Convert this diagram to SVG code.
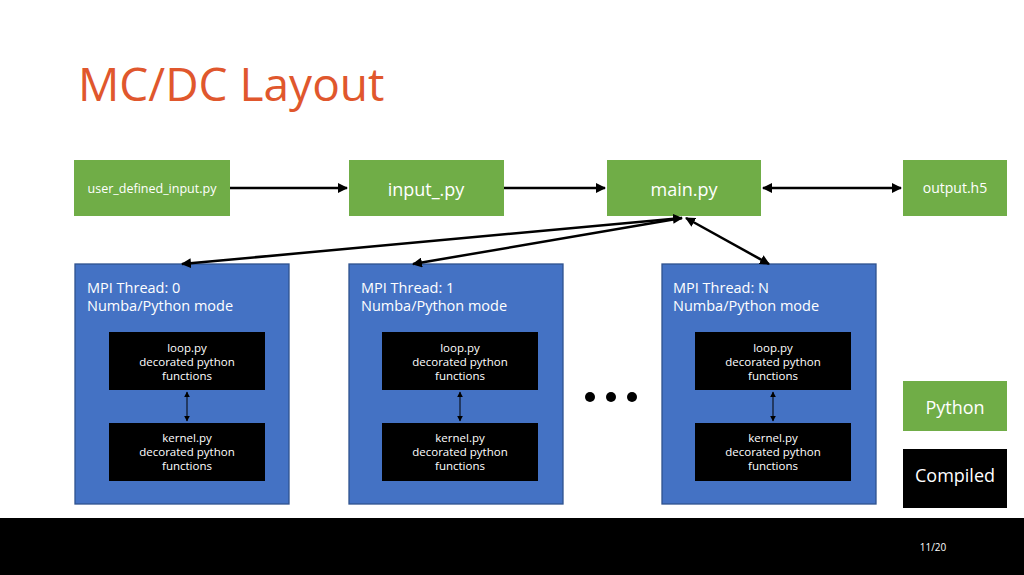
<svg xmlns="http://www.w3.org/2000/svg" width="1024" height="575" viewBox="0 0 1024 575">
<style>
text{font-family:"Open Sans","Noto Sans",sans-serif;}
.g{fill:#70AD47}
.b{fill:#4472C4;stroke:#2F528F;stroke-width:1.3}
.k{fill:#000}
.w{fill:#fff}
.c{stroke:#000;stroke-width:2.5;fill:none}
.s{stroke:#000;stroke-width:1;fill:none}
</style>
<defs>
<marker id="a" viewBox="0 0 10 10" refX="9" refY="5" markerWidth="4" markerHeight="4" orient="auto-start-reverse"><path d="M0,0L10,5L0,10z" fill="#000"/></marker>
<marker id="m" viewBox="0 0 10 10" refX="9" refY="5" markerWidth="6" markerHeight="6" orient="auto-start-reverse"><path d="M0,0L10,5L0,10z" fill="#000"/></marker>
</defs>
<rect width="1024" height="575" fill="#fff"/>
<text x="78" y="101" font-size="46" fill="#E0572D">MC/DC Layout</text>
<g id="user_input"><rect class="g" x="74" y="160" width="156" height="56"/><text class="w" x="152" y="193" font-size="12.5" text-anchor="middle">user_defined_input.py</text></g>
<g id="input"><rect class="g" x="349" y="160" width="155" height="56"/><text class="w" x="426" y="196" font-size="18" text-anchor="middle">input_.py</text></g>
<g id="main"><rect class="g" x="607" y="160" width="154" height="56"/><text class="w" x="684" y="196" font-size="18" text-anchor="middle">main.py</text></g>
<g id="output"><rect class="g" x="903" y="160" width="104" height="56"/><text class="w" x="955" y="193" font-size="14" text-anchor="middle">output.h5</text></g>
<g id="t0"><rect class="b" x="75" y="264" width="214" height="240"/><text class="w" x="87" y="293" font-size="14.5">MPI Thread: 0</text><text class="w" x="87" y="311" font-size="14.5">Numba/Python mode</text>
<rect class="k" x="109" y="332" width="156" height="58"/><text class="w" font-size="11.5" text-anchor="middle"><tspan x="187" y="352">loop.py</tspan><tspan x="187" y="366">decorated python</tspan><tspan x="187" y="380">functions</tspan></text>
<rect class="k" x="109" y="423" width="156" height="58"/><text class="w" font-size="11.5" text-anchor="middle"><tspan x="187" y="442">kernel.py</tspan><tspan x="187" y="456">decorated python</tspan><tspan x="187" y="470">functions</tspan></text>
<line class="s" x1="187" y1="392" x2="187" y2="421" marker-start="url(#m)" marker-end="url(#m)"/></g>
<g id="t1"><rect class="b" x="349" y="264" width="214" height="240"/><text class="w" x="361" y="293" font-size="14.5">MPI Thread: 1</text><text class="w" x="361" y="311" font-size="14.5">Numba/Python mode</text>
<rect class="k" x="382" y="332" width="156" height="58"/><text class="w" font-size="11.5" text-anchor="middle"><tspan x="460" y="352">loop.py</tspan><tspan x="460" y="366">decorated python</tspan><tspan x="460" y="380">functions</tspan></text>
<rect class="k" x="382" y="423" width="156" height="58"/><text class="w" font-size="11.5" text-anchor="middle"><tspan x="460" y="442">kernel.py</tspan><tspan x="460" y="456">decorated python</tspan><tspan x="460" y="470">functions</tspan></text>
<line class="s" x1="460" y1="392" x2="460" y2="421" marker-start="url(#m)" marker-end="url(#m)"/></g>
<g id="tN"><rect class="b" x="662" y="264" width="214" height="240"/><text class="w" x="673" y="293" font-size="14.5">MPI Thread: N</text><text class="w" x="673" y="311" font-size="14.5">Numba/Python mode</text>
<rect class="k" x="695" y="332" width="156" height="58"/><text class="w" font-size="11.5" text-anchor="middle"><tspan x="773" y="352">loop.py</tspan><tspan x="773" y="366">decorated python</tspan><tspan x="773" y="380">functions</tspan></text>
<rect class="k" x="695" y="423" width="156" height="58"/><text class="w" font-size="11.5" text-anchor="middle"><tspan x="773" y="442">kernel.py</tspan><tspan x="773" y="456">decorated python</tspan><tspan x="773" y="470">functions</tspan></text>
<line class="s" x1="773" y1="392" x2="773" y2="421" marker-start="url(#m)" marker-end="url(#m)"/></g>
<g id="dots" fill="#000"><circle cx="590" cy="397" r="5"/><circle cx="611" cy="397" r="5"/><circle cx="632" cy="397" r="5"/></g>
<g id="legend_python"><rect class="g" x="903" y="381" width="104" height="50"/><text class="w" x="955" y="414" font-size="18" text-anchor="middle">Python</text></g>
<g id="legend_compiled"><rect class="k" x="903" y="449" width="104" height="59"/><text class="w" x="955" y="482" font-size="18" text-anchor="middle">Compiled</text></g>
<g id="connectors">
<line class="c" x1="230" y1="188" x2="347" y2="188" marker-end="url(#a)"/>
<line class="c" x1="504" y1="188" x2="605" y2="188" marker-end="url(#a)"/>
<line class="c" x1="763" y1="188" x2="901" y2="188" marker-start="url(#a)" marker-end="url(#a)"/>
<line class="c" x1="682" y1="218" x2="182" y2="264" marker-start="url(#a)" marker-end="url(#a)"/>
<line class="c" x1="682" y1="218" x2="414" y2="264" marker-end="url(#a)" transform="translate(0,0)" visibility="hidden"/>
<line class="c" x1="682" y1="218" x2="413" y2="264" marker-end="url(#a)" style="display:none"/>
<line class="c" x1="682" y1="218" x2="413" y2="264" marker-end="url(#a)"/>
<line class="c" x1="686" y1="218" x2="769" y2="264" marker-start="url(#a)" marker-end="url(#a)"/>
</g>
<rect x="0" y="518" width="1024" height="57" fill="#000"/>
<text class="w" x="933" y="551" font-size="10" text-anchor="middle">11/20</text>
</svg>
